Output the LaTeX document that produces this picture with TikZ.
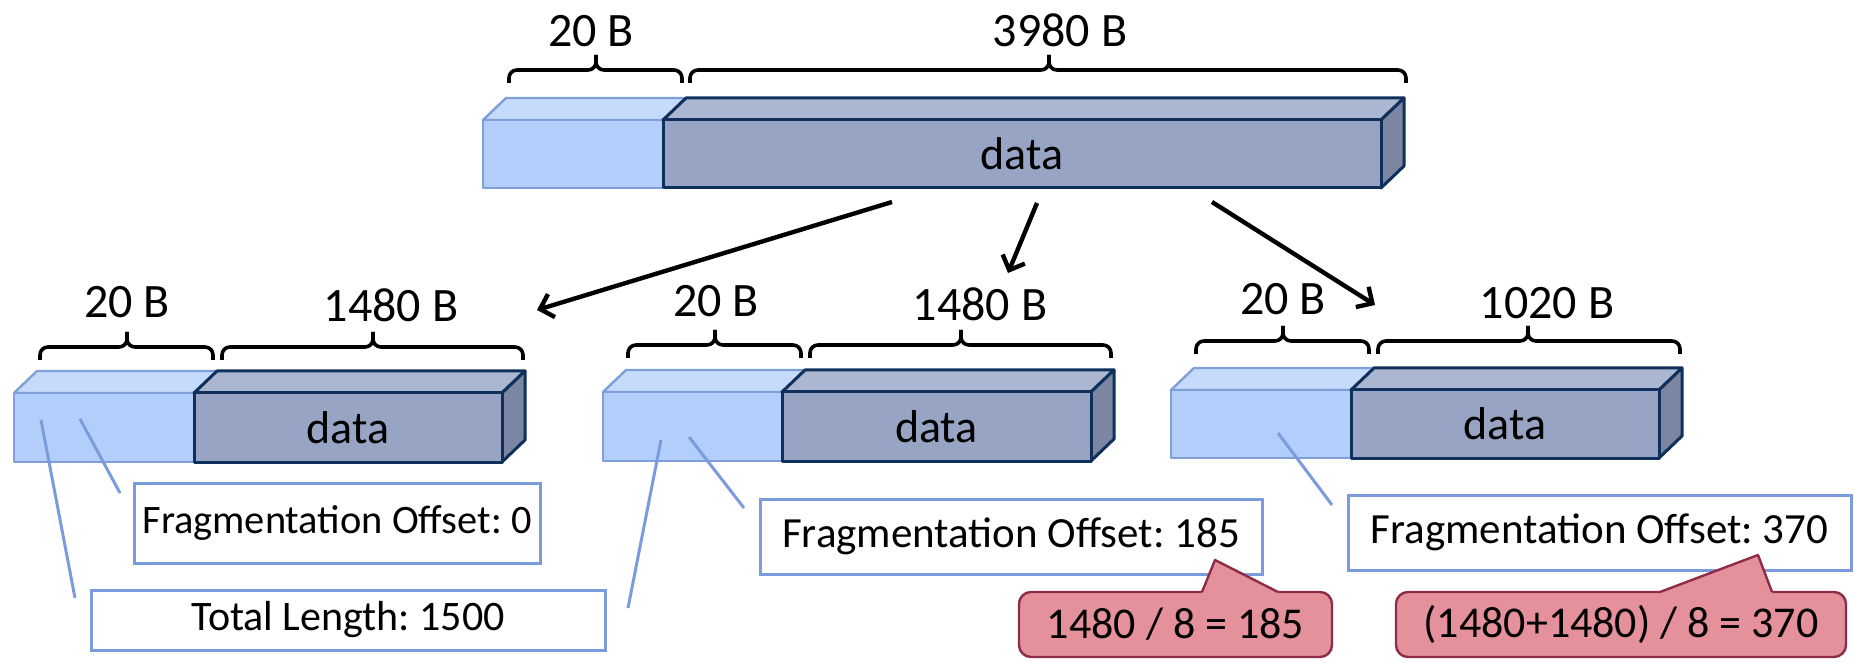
\documentclass[tikz,border=0pt]{standalone}
\usepackage{fontspec}
\setmainfont{Carlito}
\usetikzlibrary{arrows.meta}
\frenchspacing

\definecolor{hdrfront}{HTML}{B3CEFA}
\definecolor{hdrtop}{HTML}{C6DAFB}
\definecolor{hdrline}{HTML}{7F9FDA}
\definecolor{datfront}{HTML}{97A4C4}
\definecolor{dattop}{HTML}{ABB6D0}
\definecolor{datside}{HTML}{7B86A3}
\definecolor{datline}{HTML}{10305C}
\definecolor{noteline}{HTML}{7B9CDC}
\definecolor{calcfill}{HTML}{E4919C}
\definecolor{calcline}{HTML}{8E2B47}

\tikzset{
  sizelbl/.style={font=\fontsize{24}{28}\selectfont, anchor=base, inner sep=0pt},
  datalbl/.style={font=\fontsize{23}{27}\selectfont, inner sep=0pt},
  bracket/.style={line width=1.8pt, rounded corners=4pt},
  hdrface/.style={fill=hdrfront, draw=hdrline, line width=1.2pt, line join=round},
  hdrtopface/.style={fill=hdrtop, draw=hdrline, line width=1.2pt, line join=round},
  datface/.style={draw=datline, line width=1.5pt, line join=round},
  splitarrow/.style={line width=2.2pt, -{Straight Barb[length=6pt,width=12pt]}},
  pointer/.style={draw=noteline, line width=1.5pt},
  notebox/.style={draw=noteline, fill=white, line width=1.5pt,
    font=\fontsize{21.5}{25}\selectfont, inner sep=0pt},
  calcbox/.style={draw=calcline, fill=calcfill, line width=1.2pt,
    rounded corners=6pt, font=\fontsize{22}{26}\selectfont, inner sep=0pt},
}

% packet: #1 left, #2 header/data split, #3 right, #4 top, #5 bottom, #6 name
\newcommand\packetbox[6]{%
  \path[hdrtopface] (#1,#4) -- (#1+23,#4-22) -- (#2+23,#4-22) -- (#2,#4) -- cycle;
  \path[hdrface] (#1,#4) rectangle (#2,#5);
  \path[datface, fill=dattop] (#2,#4) -- (#2+23,#4-22) -- (#3+23,#4-22) -- (#3,#4) -- cycle;
  \path[datface, fill=datside] (#3,#4) -- (#3+23,#4-22) -- (#3+23,#5-22) -- (#3,#5) -- cycle;
  \path[datface, fill=datfront] (#2,#4) rectangle (#3,#5);
  \node[datalbl] (#6) at ({(#2+#3)/2},{(#4+#5)/2}) {data};
}

% size bracket: #1 left, #2 right, #3 tip x, #4 bar y
\newcommand\sizebracket[4]{%
  \draw[bracket] (#1,#4+13) -- (#1,#4) -- (#3,#4) -- (#3,#4-15);
  \draw[bracket] (#3,#4-15) -- (#3,#4) -- (#2,#4) -- (#2,#4+13);
}

\begin{document}
\begin{tikzpicture}[x=0.5pt, y=-0.5pt]
\useasboundingbox (0,0) rectangle (1854,663);

% original datagram
\packetbox{483}{663}{1381}{120}{188}{orig}
\sizebracket{509}{682}{596}{70}
\sizebracket{690}{1406}{1049}{70}
\node[sizelbl] (origh) at (591,47) {20 B};
\node[sizelbl] (origd) at (1060,47) {3980 B};

% fragment 1
\packetbox{14}{194}{502}{393}{462}{fragA}
\sizebracket{40}{213}{127}{347}
\sizebracket{222}{523}{373}{347}
\node[sizelbl] (fragAh) at (127,318) {20 B};
\node[sizelbl] (fragAd) at (391,322) {1480 B};

% fragment 2
\packetbox{603}{782}{1091}{392}{461}{fragB}
\sizebracket{628}{801}{715}{345}
\sizebracket{810}{1111}{961}{345}
\node[sizelbl] (fragBh) at (716,317) {20 B};
\node[sizelbl] (fragBd) at (980,321) {1480 B};

% fragment 3
\packetbox{1171}{1351}{1659}{390}{458}{fragC}
\sizebracket{1196}{1369}{1283}{341}
\sizebracket{1378}{1680}{1528}{341}
\node[sizelbl] (fragCh) at (1283,315) {20 B};
\node[sizelbl] (fragCd) at (1547,319) {1020 B};

% split arrows
\coordinate (splitA0) at (892,202);
\coordinate (splitA1) at (537,310);
\coordinate (splitB0) at (1037,203);
\coordinate (splitB1) at (1008,273);
\coordinate (splitC0) at (1212,202);
\coordinate (splitC1) at (1375,305);
\draw[splitarrow] (splitA0) -- (splitA1);
\draw[splitarrow] (splitB0) -- (splitB1);
\draw[splitarrow] (splitC0) -- (splitC1);

% header field notes
\node[notebox, font=\fontsize{20.2}{24}\selectfont, minimum width=203pt, minimum height=40pt] (offA) at (337,523) {Fragmentation Offset: 0};
\node[notebox, font=\fontsize{21}{25}\selectfont, minimum width=257pt, minimum height=30pt] (lenA) at (348,620) {Total Length: 1500};
\node[notebox, minimum width=251pt, minimum height=37.5pt] (offB) at (1011,536.5) {Fragmentation Offset: 185};
\node[notebox, minimum width=251.5pt, minimum height=37.5pt] (offC) at (1599.5,532.5) {Fragmentation Offset: 370};

\coordinate (pOffA0) at (80,419);   \coordinate (pOffA1) at (120,493);
\coordinate (pLenA0) at (41,420);   \coordinate (pLenA1) at (75,598);
\coordinate (pOffB0) at (689,437);  \coordinate (pOffB1) at (744,508);
\coordinate (pLenB0) at (661,440);  \coordinate (pLenB1) at (628,608);
\coordinate (pOffC0) at (1278,433); \coordinate (pOffC1) at (1332,505);
\draw[pointer] (pOffA0) -- (pOffA1);
\draw[pointer] (pLenA0) -- (pLenA1);
\draw[pointer] (pOffB0) -- (pOffB1);
\draw[pointer] (pLenB0) -- (pLenB1);
\draw[pointer] (pOffC0) -- (pOffC1);

% offset calculations
\node[calcbox, minimum width=156.5pt, minimum height=32.5pt] (calcB) at (1175.5,624.5) {1480 / 8 = 185};
\node[calcbox, minimum width=225pt, minimum height=32.5pt] (calcC) at (1621,624.5) {(1480+1480) / 8 = 370};

\coordinate (tailB) at (1215,560);
\coordinate (tailC) at (1758,555);
\fill[calcfill] (1202,596) -- (1202,592) -- (tailB) -- (1278,592) -- (1278,596) -- cycle;
\draw[draw=calcline, line width=1.2pt, line join=round] (1202,592) -- (tailB) -- (1278,592);
\fill[calcfill] (1660,596) -- (1660,592) -- (tailC) -- (1772,592) -- (1772,596) -- cycle;
\draw[draw=calcline, line width=1.2pt, line join=round] (1660,592) -- (tailC) -- (1772,592);
\end{tikzpicture}
\end{document}
